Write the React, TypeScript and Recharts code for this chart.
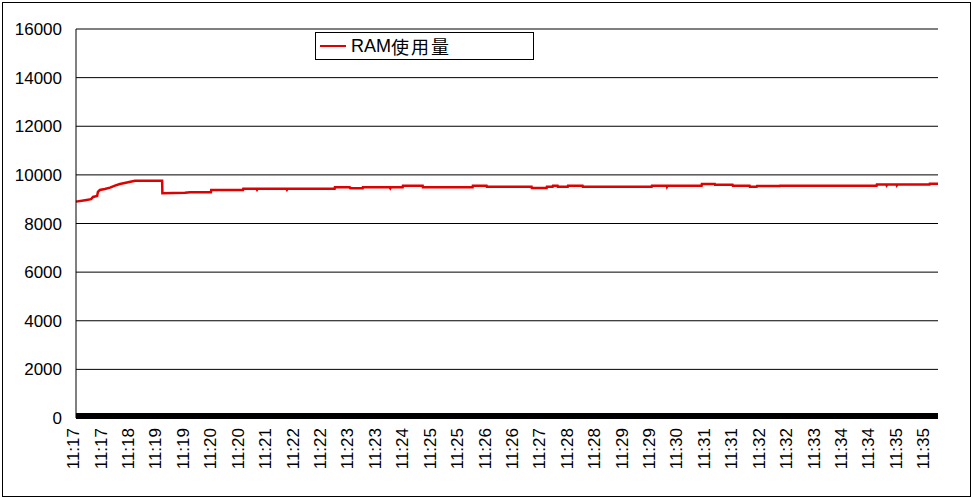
import React from 'react';
import { LineChart, Line, XAxis, YAxis, CartesianGrid, Legend } from 'recharts';

// x positions are in "label slots": tick i sits under timeLabels[i]
const timeLabels = [
  '11:17', '11:17', '11:18', '11:19', '11:19', '11:20', '11:20', '11:21',
  '11:22', '11:22', '11:23', '11:23', '11:24', '11:25', '11:25', '11:26',
  '11:26', '11:27', '11:28', '11:28', '11:29', '11:29', '11:30', '11:31',
  '11:31', '11:32', '11:32', '11:33', '11:34', '11:34', '11:35', '11:35',
];

const samplePos = [
  0, 0.33, 0.55, 0.62, 0.77, 0.8, 0.87, 1.05, 1.24, 1.42, 1.6, 1.9, 2.15, 3.14, 3.15,
  3.97, 4.16, 4.92, 4.93, 6.09, 6.1, 6.58, 6.6, 6.62, 7.67, 7.69, 7.71,
  9.43, 9.44, 9.98, 10.0, 10.45, 10.46, 11.44, 11.46, 11.48, 11.91, 11.92,
  12.64, 12.65, 14.46, 14.47, 14.97, 14.98, 16.61, 16.62, 17.16, 17.17,
  17.38, 17.39, 17.56, 17.57, 17.93, 17.94, 18.47, 18.48, 20.99, 21.0,
  21.54, 21.55, 21.57, 22.81, 22.82, 23.29, 23.3, 23.94, 23.95, 24.56,
  24.57, 24.82, 24.83, 25.66, 25.67, 29.19, 29.2, 29.55, 29.56, 29.58,
  29.92, 29.93, 29.95, 31.12, 31.13, 31.43,
];

const ramValues = [
  8900, 8960, 9000, 9090, 9130, 9300, 9380, 9420, 9474, 9560, 9626, 9700, 9762, 9762, 9243,
  9260, 9284, 9284, 9380, 9380, 9432, 9432, 9390, 9432, 9432, 9390, 9432,
  9432, 9490, 9490, 9450, 9450, 9490, 9490, 9450, 9490, 9490, 9556,
  9556, 9490, 9490, 9556, 9556, 9515, 9515, 9460, 9460, 9515,
  9515, 9556, 9556, 9515, 9515, 9556, 9556, 9515, 9515, 9556,
  9556, 9515, 9556, 9556, 9626, 9626, 9590, 9590, 9556, 9556,
  9515, 9515, 9540, 9540, 9556, 9556, 9600, 9600, 9570, 9600,
  9600, 9570, 9600, 9600, 9640, 9640,
];

const yTicks = [0, 2000, 4000, 6000, 8000, 10000, 12000, 14000, 16000];

const data = samplePos.map((pos, i) => ({ pos, ram: ramValues[i] }));

const FONT = "'Liberation Sans', Arial, 'Noto Sans CJK JP', sans-serif";
const RED = '#e00000';

const TimeTick = (props: any) => {
  const { x, y, payload } = props;
  return (
    <g transform={`translate(${x - 3},${y + 2})`}>
      <text
        transform="rotate(-90)"
        textAnchor="end"
        dy="0.36em"
        fill="#000"
        fontSize={17}
        fontFamily={FONT}
      >
        {timeLabels[payload.value]}
      </text>
    </g>
  );
};

const LegendBox = () => (
  <div
    style={{
      width: 219,
      height: 28,
      boxSizing: 'border-box',
      border: '1px solid #000',
      background: '#fff',
      display: 'flex',
      alignItems: 'center',
      fontFamily: FONT,
      fontSize: 18,
      color: '#000',
    }}
  >
    <span style={{ display: 'inline-block', width: 26, height: 2, background: RED, marginLeft: 4, marginRight: 5 }} />
    <span>RAM</span>
    <span style={{ letterSpacing: 2 }}>使用量</span>
  </div>
);

export default function App() {
  return (
    <div style={{ position: 'absolute', left: 0, top: 0, width: 973, height: 498, background: '#fff' }}>
      <LineChart
        width={973}
        height={498}
        data={data}
        margin={{ top: 29, right: 35, bottom: 0, left: 0 }}
      >
        <CartesianGrid horizontal vertical={false} stroke="#000" strokeWidth={1} />
        <XAxis
          dataKey="pos"
          type="number"
          domain={[0, 31.43]}
          ticks={timeLabels.map((_, i) => i)}
          interval={0}
          tick={<TimeTick />}
          tickLine={false}
          axisLine={{ stroke: '#000', strokeWidth: 6, transform: 'translate(0,-2)' }}
          height={80}
        />
        <YAxis
          domain={[0, 16000]}
          ticks={yTicks}
          interval={0}
          width={76}
          tickLine={false}
          tickSize={6}
          tickMargin={8}
          axisLine={{ stroke: '#000', strokeWidth: 1 }}
          tick={{ fill: '#000', fontSize: 17, fontFamily: FONT }}
        />
        <Legend
          layout="vertical"
          align="center"
          verticalAlign="middle"
          content={<LegendBox />}
          wrapperStyle={{ position: 'absolute', left: 315, top: 32, width: 219, height: 28 }}
        />
        <Line
          type="linear"
          dataKey="ram"
          stroke={RED}
          strokeWidth={2.5}
          dot={false}
          isAnimationActive={false}
        />
      </LineChart>
      <div
        style={{
          position: 'absolute',
          left: 2,
          top: 2,
          width: 969,
          height: 495,
          boxSizing: 'border-box',
          border: '1px solid #000',
          pointerEvents: 'none',
        }}
      />
    </div>
  );
}
